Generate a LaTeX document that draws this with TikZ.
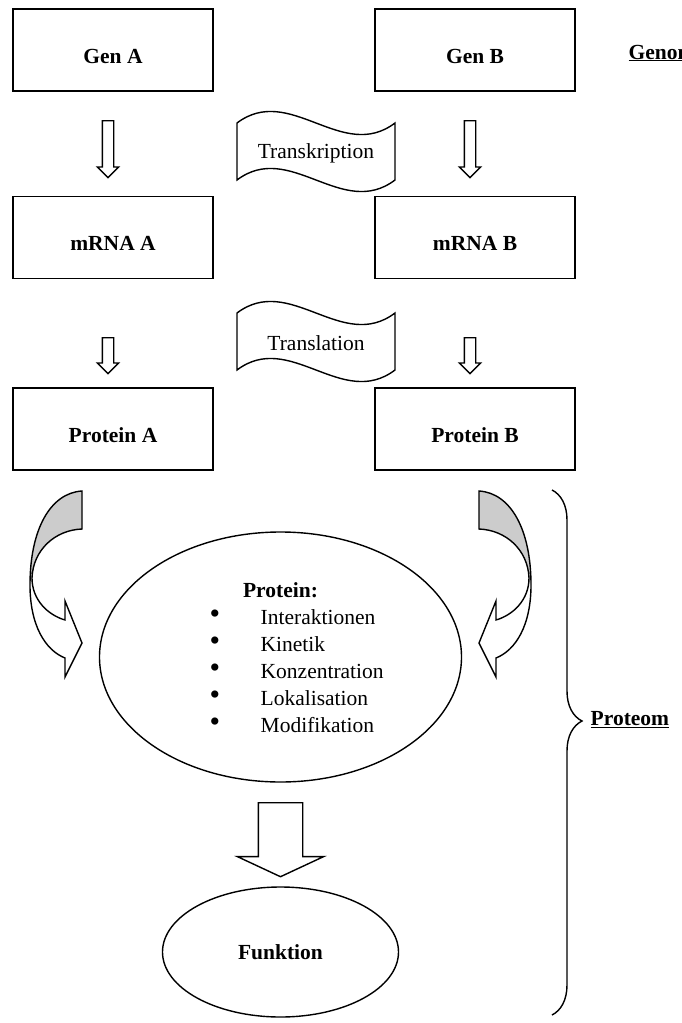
\documentclass[tikz,border=0pt]{standalone}
\usepackage{fontspec}
\setmainfont{Liberation Serif}
\usetikzlibrary{shapes.geometric, shapes.arrows, decorations.pathreplacing, positioning}
\newcommand{\wordsize}{\fontsize{21.5}{25}\selectfont}
\tikzset{
  every picture/.style={line width=1.4pt},
  box/.style={draw, minimum width=200pt, minimum height=82pt, text height=26pt, text depth=0pt, font=\wordsize\bfseries},
  downarr/.style={single arrow, draw, shape border rotate=270, inner sep=5pt, single arrow head extend=5pt, anchor=tail, minimum height=#1},
  downarr/.default=48pt,
  oval/.style={ellipse, draw, inner sep=0pt},
  heading/.style={font=\wordsize\bfseries, anchor=west, inner sep=0pt},
}

\begin{document}
\begin{tikzpicture}[x=1pt, y=-1pt, font=\wordsize]
\useasboundingbox (0,0) rectangle (682,1023);
\clip (0,0) rectangle (682,1023);
% Gene, mRNA, Proteine
\node[box] (genA) at (113,50) {Gen A};
\node[box] (genB) at (475,50) {Gen B};
\node[box] (mrnaA) at (113,237.5) {mRNA A};
\node[box] (mrnaB) at (475,237.5) {mRNA B};
\node[box] (protA) at (113,429) {Protein A};
\node[box] (protB) at (475,429) {Protein B};
\node[heading] (genom) at (628,53) {\underline{Genom}};
% kleine Pfeile
\node[downarr=57pt] (pA1) at (108,120) {};
\node[downarr=57pt] (pB1) at (470,120) {};
\node[downarr=36pt] (pA2) at (108,337) {};
\node[downarr=36pt] (pB2) at (470,337) {};
% Wellen
\foreach \y/\t [count=\i] in {123/Transkription, 313/Translation} {
  \draw (237,\y) .. controls (290,\y-40) and (342,\y+40) .. (395,\y) -- (395,\y+57)
    .. controls (342,\y+97) and (290,\y+17) .. (237,\y+57) -- cycle;
  \node (welle\i) at (316,\y+30) {\t};
}
% gebogene Pfeile
\foreach \s/\o in {1/0, -1/561} {
\begin{scope}[shift={(\o,0)}, xscale=\s]
  \fill[black!20] (82,491) .. controls (50,493) and (30,530) .. (30,585) -- (32,578)
    .. controls (33,550) and (55,530) .. (82,529) -- cycle;
  \draw[line join=miter] (82,491) .. controls (50,493) and (30,530) .. (30,585)
    .. controls (30,625) and (45,650) .. (65,658) -- (65,677) -- (82,643) -- (65,601) -- (65,620)
    .. controls (48,615) and (32,600) .. (32,578) .. controls (33,550) and (55,530) .. (82,529) -- cycle;
\end{scope}
}
% Proteom
\node[oval, minimum width=362pt, minimum height=250pt] (protein) at (280.5,657) {};
\node[font=\wordsize\bfseries] (ptitel) at (280.5,590) {Protein:};
\foreach \t [count=\i] in {Interaktionen, Kinetik, Konzentration, Lokalisation, Modifikation} {
  \node[inner sep=0pt] (pkt\i) at (215,{590+27*\i}) {\scalebox{1.4}{\textbullet}};
  \node[anchor=west, inner sep=0pt] (eig\i) at (260,{590+27*\i}) {\t};
}
\node[single arrow, draw, shape border rotate=270, inner sep=21.5pt, single arrow head extend=21pt,
  single arrow tip angle=130, minimum height=74pt, anchor=tail] (pfeil) at (280.5,802) {};
\node[oval, minimum width=236pt, minimum height=130pt, font=\wordsize\bfseries] (funktion) at (280.5,952) {Funktion};
\draw[decorate, decoration={brace, amplitude=30pt, aspect=0.44}] (552,490) -- (552,1015);
\node[heading] (proteom) at (590,720) {\underline{Proteom}};
\end{tikzpicture}
\end{document}
